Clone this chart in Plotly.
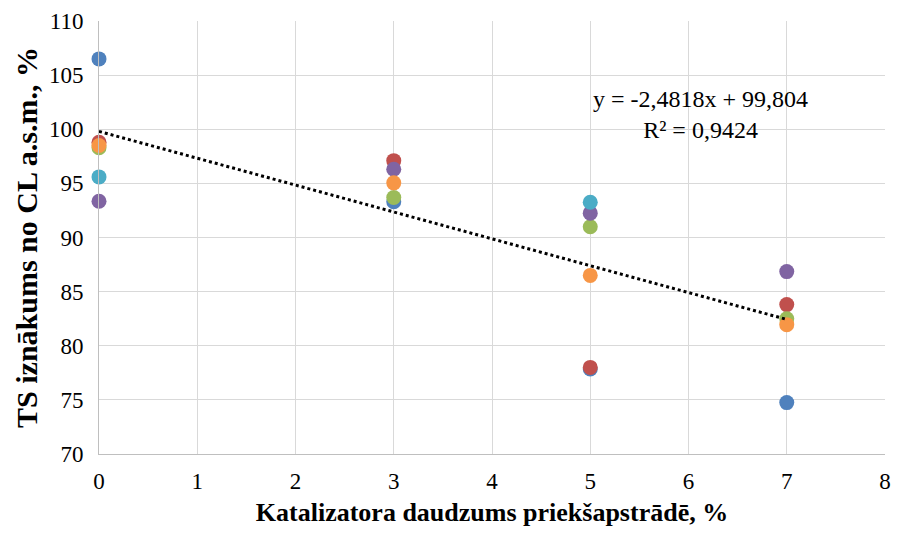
import plotly.graph_objects as go

x_vals = [0, 3, 5, 7]
series_colors = ["#4F81BD", "#C0504D", "#9BBB59", "#8064A2", "#4BACC6", "#F79646"]
s_blue = [106.5, 93.3, 77.85, 74.75]
s_red = [98.8, 97.1, 78.0, 83.8]
s_green = [98.3, 93.7, 91.0, 82.5]
s_purple = [93.35, 96.3, 92.25, 86.85]
s_aqua = [95.6, None, 93.25, None]
s_orange = [98.5, 95.05, 86.5, 81.95]
series = [s_blue, s_red, s_green, s_purple, s_aqua, s_orange]

slope = -2.4818
intercept = 99.804
trend_x = [0, 7]
eq_text = "y = -2,4818x + 99,804<br>R² = 0,9424"

x_ticks = [0, 1, 2, 3, 4, 5, 6, 7, 8]
y_ticks = [70, 75, 80, 85, 90, 95, 100, 105, 110]

fig = go.Figure()
for vals, col in zip(series, series_colors):
    fig.add_trace(go.Scatter(x=x_vals, y=vals, mode="markers",
                             marker=dict(size=15, color=col), showlegend=False,
                             cliponaxis=False))

fig.add_trace(go.Scatter(x=trend_x, y=[slope * t + intercept for t in trend_x],
                         mode="lines", line=dict(color="black", width=3, dash="dot"),
                         showlegend=False))

font = "Liberation Serif, Times New Roman, serif"
fig.add_annotation(x=6.12, y=101.4, xref="x", yref="y", text=eq_text, showarrow=False,
                   font=dict(family=font, size=24, color="black"), align="center")

# page body has an 8px default margin; figure sized to sit within the window
fig.update_layout(
    width=889, height=519,
    margin=dict(l=91, r=12, t=13, b=73, autoexpand=False),
    plot_bgcolor="white", paper_bgcolor="white",
    font=dict(family=font, size=23, color="black"),
)
fig.update_xaxes(range=[0, 8], tickvals=x_ticks, showgrid=True, gridcolor="#D9D9D9", gridwidth=1,
                 showline=True, linecolor="#BFBFBF", linewidth=1, zeroline=False,
                 ticks="", ticklabelstandoff=6, automargin=False,
                 title=dict(text="<b>Katalizatora daudzums priekšapstrādē, %</b>",
                            font=dict(family=font, size=26), standoff=16))
fig.update_yaxes(range=[70, 110], tickvals=y_ticks, showgrid=True, gridcolor="#D9D9D9", gridwidth=1,
                 showline=True, linecolor="#BFBFBF", linewidth=1, zeroline=False,
                 ticks="", ticklabelstandoff=10, automargin=False,
                 title=dict(text="<b>TS iznākums no CL a.s.m., %</b>",
                            font=dict(family=font, size=30), standoff=2))

fig.write_html("out.html")
